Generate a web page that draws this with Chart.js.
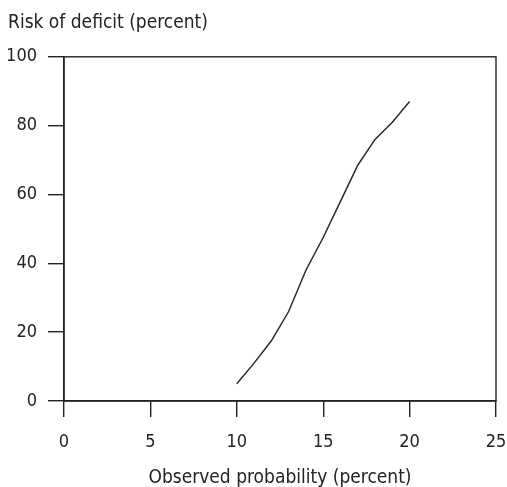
<!DOCTYPE html>
<html lang="en">
  <head>
    <meta charset="utf-8" />
    <title>Risk of deficit</title>
    <style>
      html, body { margin: 0; padding: 0; background: #fff; overflow: hidden; }
      canvas { display: block; }
    </style>
  </head>
  <body>
    <canvas id="riskChart" width="507" height="487"></canvas>
    <script src="https://cdn.jsdelivr.net/npm/chart.js@4.4.1/dist/chart.umd.min.js"></script>
    <script>
      // values
      const observedProbability = [10, 11, 12, 13, 14, 15, 16, 17, 18, 19, 20];
      const riskOfDeficit = [5, 11, 17.5, 26, 38, 47.5, 58, 68.5, 76, 81, 87];
      const xTicks = [0, 5, 10, 15, 20, 25];
      const yTicks = [0, 20, 40, 60, 80, 100];

      const fontFamily = "'Liberation Sans Narrow', 'DejaVu Sans Condensed', sans-serif";
      const ink = '#222';

      // box round the plot area (top and right sides too)
      const frame = {
        id: 'frame',
        afterDraw(chart) {
          const { ctx, chartArea: a } = chart;
          ctx.save();
          ctx.strokeStyle = ink;
          ctx.lineWidth = 1.4;
          ctx.strokeRect(a.left, a.top, a.right - a.left, a.bottom - a.top);
          ctx.restore();
        },
      };

      new Chart(document.getElementById('riskChart'), {
        type: 'line',
        data: {
          datasets: [
            {
              data: observedProbability.map((x, i) => ({ x, y: riskOfDeficit[i] })),
              borderColor: '#2a2a2a',
              borderWidth: 1.5,
              pointRadius: 0,
              tension: 0,
            },
          ],
        },
        options: {
          responsive: false,
          animation: false,
          layout: { padding: { left: 8, right: 11, top: 0, bottom: 0 } },
          plugins: {
            legend: { display: false },
            tooltip: { enabled: false },
            title: {
              display: true,
              text: 'Risk of deficit (percent)',
              align: 'start',
              color: ink,
              font: { family: fontFamily, size: 19, weight: 'normal' },
              padding: { top: 12, bottom: 22 },
            },
          },
          scales: {
            x: {
              type: 'linear',
              min: 0,
              max: 25,
              afterBuildTicks: (s) => { s.ticks = xTicks.map((v) => ({ value: v })); },
              afterFit: (s) => {
                s.height = 86;
                s.paddingLeft = 0;
                s.paddingRight = 0;
              },
              grid: { drawOnChartArea: false, tickLength: 16, color: ink, lineWidth: 1.4 },
              border: { color: ink, width: 1.4 },
              ticks: { color: ink, padding: 15, font: { family: fontFamily, size: 18 } },
              title: {
                display: true,
                text: 'Observed probability (percent)',
                color: ink,
                font: { family: fontFamily, size: 19 },
                padding: { top: 0, bottom: -2 },
              },
            },
            y: {
              min: 0,
              max: 100,
              afterBuildTicks: (s) => { s.ticks = yTicks.map((v) => ({ value: v })); },
              afterFit: (s) => { s.width = 56; },
              grid: { drawOnChartArea: false, tickLength: 16, color: ink, lineWidth: 1.4 },
              border: { color: ink, width: 1.4 },
              ticks: { color: ink, padding: 11, font: { family: fontFamily, size: 18 } },
            },
          },
        },
        plugins: [frame],
      });
    </script>
  </body>
</html>
